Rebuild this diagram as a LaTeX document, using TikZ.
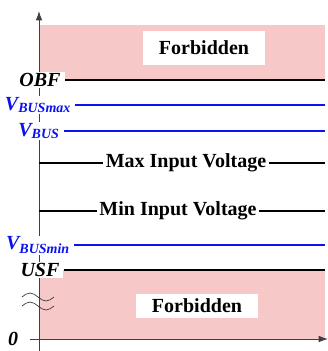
\documentclass[tikz,border=0pt]{standalone}
\usepackage{fontspec}
\setmainfont{Liberation Serif}
\usetikzlibrary{arrows.meta, positioning}
\definecolor{fbpink}{HTML}{F7C8C8}
\definecolor{busblue}{HTML}{0A12F0}

\begin{document}
\begin{tikzpicture}[x=0.75pt, y=-0.75pt,
    zone/.style={fill=fbpink, draw=none},
    tag/.style={fill=white, inner xsep=3pt, inner ysep=1pt,
                font=\fontsize{15}{17}\selectfont\bfseries\itshape},
    bustag/.style={tag, text=busblue},
    fbtag/.style={fill=white, inner sep=0pt, font=\fontsize{15}{17}\selectfont\bfseries},
    vtag/.style={fill=white, inner xsep=2pt, inner ysep=0pt,
                 font=\fontsize{15}{17}\selectfont\bfseries},
    level/.style={line width=1.2pt, black},
    busline/.style={line width=1.6pt, busblue},
    axis/.style={line width=0.7pt, black!75, -{Latex[length=7pt,width=5pt]}},
    wave/.style={line width=0.5pt, black!80}
  ]
    \useasboundingbox (0,0) rectangle (328,351);
    \coordinate (ybot) at (39,351);
    \coordinate (ytop) at (39,11);
    \coordinate (xbeg) at (30,339);
    \coordinate (xend) at (328,339);
    \coordinate (rgt) at (325,339);

    % forbidden zones
    \fill[zone] (40,25) rectangle (325,81);
    \fill[zone] (40,270) rectangle (325,339);

    \draw[axis] (ybot) -- (ytop);
    \draw[axis] (xbeg) -- (xend);

    % level labels
    \node[tag] (obf) at (40,80) {OBF};
    \node[bustag] (vmax) at (38,105) {V\textsubscript{BUSmax}};
    \node[bustag] (vbus) at (39,131) {V\textsubscript{BUS}};
    \node[bustag] (vmin) at (38,245) {V\textsubscript{BUSmin}};
    \node[tag] (usf) at (40,270) {USF};
    \node[tag, inner xsep=1pt] (zero) at (13,339) {0};

    \node[fbtag, minimum width=92pt, minimum height=26pt] (fbtop) at (204,48) {Forbidden};
    \node[fbtag, minimum width=92pt, minimum height=18pt] (fbbot) at (197,306) {Forbidden};

    \node[vtag] (maxin) at (186,163) {Max Input Voltage};
    \node[vtag] (minin) at (178,211) {Min Input Voltage};

    % level lines
    \draw[level] (obf.east) -- (obf.east -| rgt);
    \draw[busline] (vmax.east) -- (vmax.east -| rgt);
    \draw[busline] (vbus.east) -- (vbus.east -| rgt);
    \draw[busline] (vmin.east) -- (vmin.east -| rgt);
    \draw[level] (usf.east) -- (usf.east -| rgt);
    \draw[level] (maxin.west) -- (maxin.west -| ybot);
    \draw[level] (maxin.east) -- (maxin.east -| rgt);
    \draw[level] (minin.west) -- (minin.west -| ybot);
    \draw[level] (minin.east) -- (minin.east -| rgt);

    % axis break
    \draw[wave] (22,297) sin (30,293) cos (38,297) sin (46,301) cos (54,297);
    \draw[wave] (22,306) sin (30,302) cos (38,306) sin (46,310) cos (54,306);
\end{tikzpicture}
\end{document}
